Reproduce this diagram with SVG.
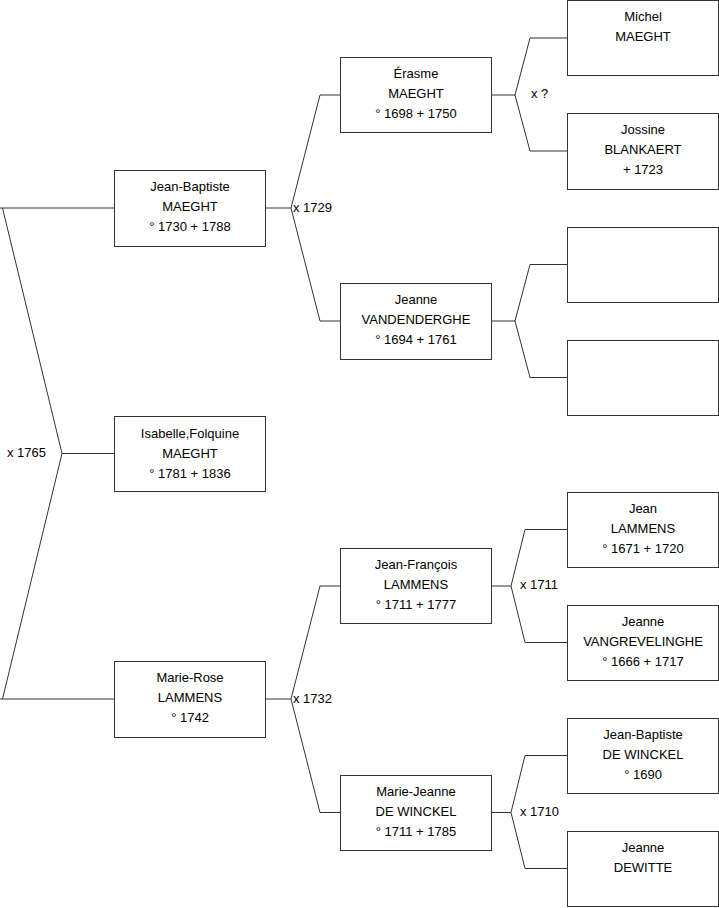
<svg xmlns="http://www.w3.org/2000/svg" width="719" height="908" viewBox="0 0 719 908">
<style>
.box{fill:#fff;stroke:#333;stroke-width:1}
.c{fill:none;stroke:#333;stroke-width:1}
text{font-family:"Liberation Sans",Arial,sans-serif;font-size:13px;fill:#000}
.m{text-anchor:middle}
</style>
<rect width="719" height="908" fill="#fff"/>
<g id="connectors">
<path class="c" d="M114,208H0M2.5,208L62,453.5L2.5,699M0,699H114M62,453.5H114"/>
<path class="c" d="M265,208H291M340,95H320L291,208L320,321H340"/>
<path class="c" d="M491,95H515M567,38H530L515,95L530,151H567"/>
<path class="c" d="M491,321H515M567,264.5H530L515,321L530,377.5H567"/>
<path class="c" d="M265,699H291M340,586H320L291,699L320,812.5H340"/>
<path class="c" d="M491,586H511M567,529.5H525L511,586L525,642.5H567"/>
<path class="c" d="M491,812.5H511M567,755.5H525L511,812.5L525,868.5H567"/>
<text x="7" y="457">x 1765</text>
<text x="293" y="211.5">x 1729</text>
<text x="531" y="97.5">x ?</text>
<text x="293" y="702.5">x 1732</text>
<text x="520" y="588.5">x 1711</text>
<text x="520" y="815.5">x 1710</text>
</g>
<g id="isabelle"><rect class="box" x="114.5" y="416.5" width="151" height="75"/><text class="m" x="190" y="437.5">Isabelle,Folquine</text><text class="m" x="190" y="457.5">MAEGHT</text><text class="m" x="190" y="477.5">° 1781 + 1836</text></g>
<g id="jean-baptiste-maeght"><rect class="box" x="114.5" y="170.5" width="151" height="76"/><text class="m" x="190" y="191">Jean-Baptiste</text><text class="m" x="190" y="211">MAEGHT</text><text class="m" x="190" y="231">° 1730 + 1788</text></g>
<g id="marie-rose"><rect class="box" x="114.5" y="661.5" width="151" height="76"/><text class="m" x="190" y="682">Marie-Rose</text><text class="m" x="190" y="702">LAMMENS</text><text class="m" x="190" y="722">° 1742</text></g>
<g id="erasme"><rect class="box" x="340.5" y="57.5" width="151" height="75"/><text class="m" x="416" y="77.5">Érasme</text><text class="m" x="416" y="97.5">MAEGHT</text><text class="m" x="416" y="117.5">° 1698 + 1750</text></g>
<g id="jeanne-vandenderghe"><rect class="box" x="340.5" y="283.5" width="151" height="76"/><text class="m" x="416" y="304">Jeanne</text><text class="m" x="416" y="324">VANDENDERGHE</text><text class="m" x="416" y="344">° 1694 + 1761</text></g>
<g id="jean-francois"><rect class="box" x="340.5" y="548.5" width="151" height="75"/><text class="m" x="416" y="569">Jean-François</text><text class="m" x="416" y="589">LAMMENS</text><text class="m" x="416" y="609">° 1711 + 1777</text></g>
<g id="marie-jeanne"><rect class="box" x="340.5" y="775.5" width="151" height="75"/><text class="m" x="416" y="796">Marie-Jeanne</text><text class="m" x="416" y="816">DE WINCKEL</text><text class="m" x="416" y="836">° 1711 + 1785</text></g>
<g id="michel"><rect class="box" x="567.5" y="0.5" width="151" height="75"/><text class="m" x="643" y="21">Michel</text><text class="m" x="643" y="41">MAEGHT</text></g>
<g id="jossine"><rect class="box" x="567.5" y="113.5" width="151" height="76"/><text class="m" x="643" y="134">Jossine</text><text class="m" x="643" y="154">BLANKAERT</text><text class="m" x="643" y="174">+ 1723</text></g>
<g id="empty-1"><rect class="box" x="567.5" y="227.5" width="151" height="75"/></g>
<g id="empty-2"><rect class="box" x="567.5" y="340.5" width="151" height="75"/></g>
<g id="jean-lammens"><rect class="box" x="567.5" y="492.5" width="151" height="75"/><text class="m" x="643" y="512.5">Jean</text><text class="m" x="643" y="532.5">LAMMENS</text><text class="m" x="643" y="552.5">° 1671 + 1720</text></g>
<g id="jeanne-vangrevelinghe"><rect class="box" x="567.5" y="605.5" width="151" height="75"/><text class="m" x="643" y="625.5">Jeanne</text><text class="m" x="643" y="645.5">VANGREVELINGHE</text><text class="m" x="643" y="665.5">° 1666 + 1717</text></g>
<g id="jean-baptiste-de-winckel"><rect class="box" x="567.5" y="718.5" width="151" height="75"/><text class="m" x="643" y="738.5">Jean-Baptiste</text><text class="m" x="643" y="758.5">DE WINCKEL</text><text class="m" x="643" y="778.5">° 1690</text></g>
<g id="jeanne-dewitte"><rect class="box" x="567.5" y="831.5" width="151" height="75"/><text class="m" x="643" y="851.5">Jeanne</text><text class="m" x="643" y="871.5">DEWITTE</text></g>
</svg>
